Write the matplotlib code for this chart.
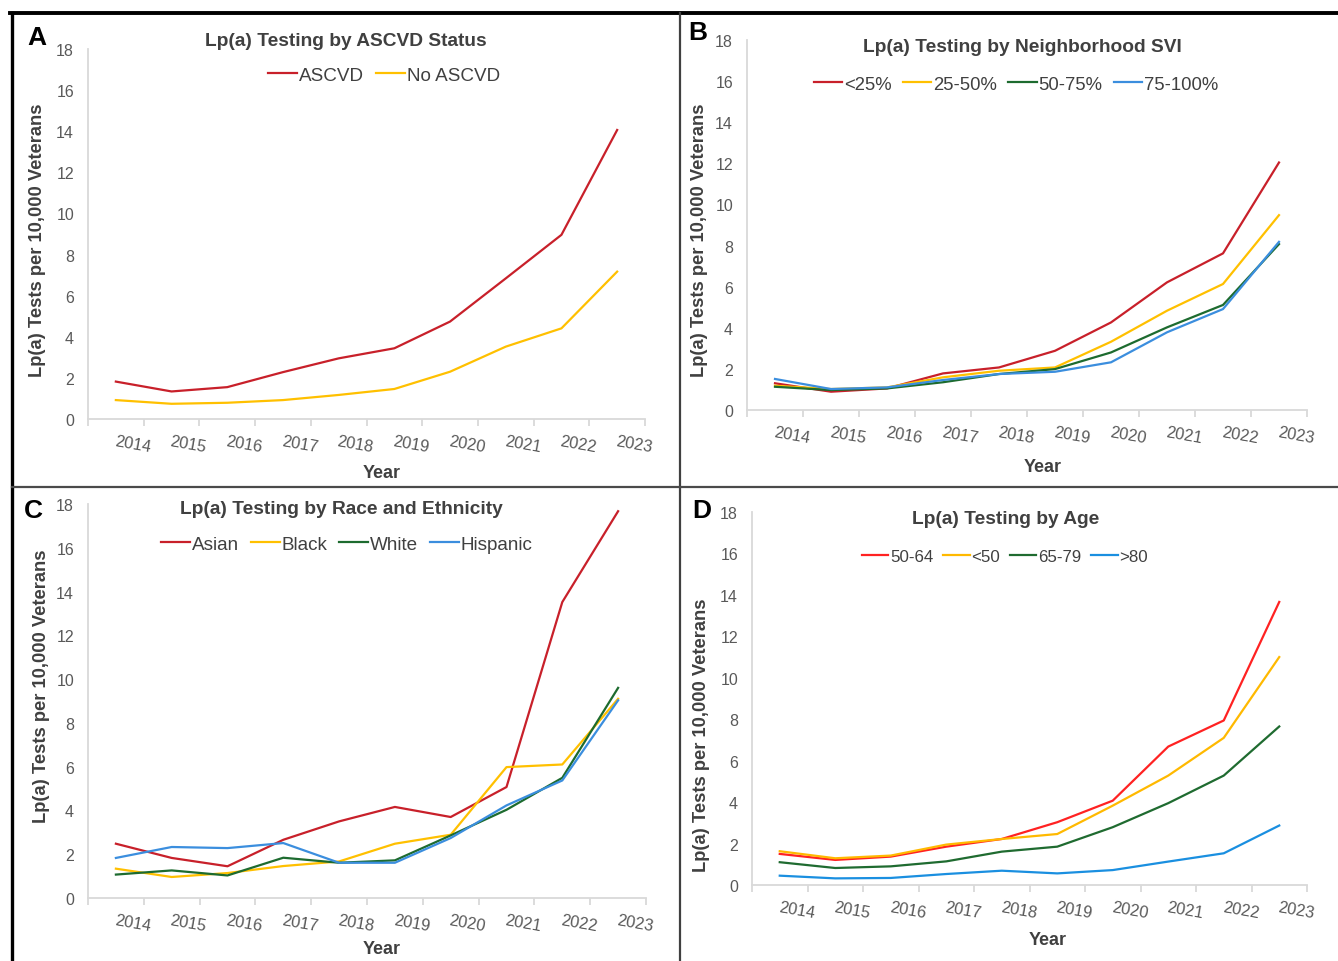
#!/usr/bin/env python3
"""Lp(a) testing rates 2014-2023, four panels (ASCVD, SVI, race, age)."""

import matplotlib
matplotlib.use("Agg")
import matplotlib.pyplot as plt
from matplotlib.lines import Line2D
import numpy as np

plt.rcParams["font.family"] = ["Liberation Sans", "DejaVu Sans"]

W, H = 1338, 962
YEARS = ["2014", "2015", "2016", "2017", "2018", "2019", "2020", "2021", "2022", "2023"]

# Panel A - ASCVD status
A_LABELS = ["ASCVD", "No ASCVD"]
A_ASCVD = [1.82, 1.34, 1.55, 2.28, 2.95, 3.44, 4.74, 6.84, 8.96, 14.06]
A_NO_ASCVD = [0.92, 0.74, 0.79, 0.92, 1.17, 1.46, 2.30, 3.52, 4.41, 7.17]

# Panel B - neighborhood SVI
B_LABELS = ["<25%", "25-50%", "50-75%", "75-100%"]
B_LT25 = [1.30, 0.89, 1.05, 1.78, 2.07, 2.88, 4.26, 6.21, 7.62, 12.04]
B_25_50 = [1.18, 1.02, 1.10, 1.59, 1.91, 2.07, 3.32, 4.83, 6.13, 9.48]
B_50_75 = [1.13, 0.97, 1.05, 1.35, 1.75, 1.99, 2.80, 4.02, 5.11, 8.07]
B_75_100 = [1.51, 1.02, 1.10, 1.46, 1.75, 1.86, 2.32, 3.78, 4.91, 8.18]

# Panel C - race and ethnicity
C_LABELS = ["Asian", "Black", "White", "Hispanic"]
C_ASIAN = [2.48, 1.83, 1.45, 2.66, 3.50, 4.16, 3.70, 5.07, 13.52, 17.67]
C_BLACK = [1.34, 0.96, 1.14, 1.46, 1.67, 2.48, 2.89, 5.98, 6.10, 9.10]
C_WHITE = [1.07, 1.26, 1.03, 1.84, 1.61, 1.72, 2.86, 4.03, 5.49, 9.60]
C_HISPANIC = [1.83, 2.33, 2.28, 2.51, 1.61, 1.61, 2.74, 4.23, 5.37, 9.03]

# Panel D - age
D_LABELS = ["50-64", "<50", "65-79", ">80"]
D_50_64 = [1.50, 1.21, 1.37, 1.85, 2.22, 3.03, 4.07, 6.68, 7.94, 13.66]
D_LT50 = [1.63, 1.29, 1.42, 1.95, 2.22, 2.46, 3.83, 5.28, 7.10, 11.00]
D_65_79 = [1.10, 0.82, 0.90, 1.14, 1.61, 1.85, 2.79, 3.95, 5.28, 7.65]
D_GT80 = [0.45, 0.32, 0.34, 0.53, 0.69, 0.56, 0.72, 1.13, 1.53, 2.87]

RED, YEL, GRN, BLU = "#C8202A", "#FFC000", "#1D6B2F", "#3B8EDE"
D_COLORS = ["#FF2222", "#FFB900", "#1F6B30", "#1A8FE0"]

TXT = "#404040"
TICK = "#595959"
AXC = "#D9D9D9"


def fx(x):
    return x / W


def fy(y):
    return 1 - y / H


def panel(fig, box, series, labels, colors, title, title_xy, leg_xy, leg_fs,
          letter, letter_xy, ylab_xy, xlab_xy):
    left, right, y0, y18 = box
    ax = fig.add_axes([fx(left), fy(y0), (right - left) / W, (y0 - y18) / H])
    x = np.arange(len(YEARS))
    for vals, lab, col in zip(series, labels, colors):
        ax.plot(x, vals, color=col, lw=1.6, label=lab)
    ax.set_xlim(-0.5, len(YEARS) - 0.5)
    ax.set_ylim(0, 18)
    ax.set_yticks(range(0, 19, 2))
    ax.set_xticks(x)
    ax.set_xticklabels(YEARS, rotation=-10, ha="left", va="top",
                       rotation_mode="anchor", fontsize=11.8, color=TICK)
    ax.set_xticks(np.arange(-0.5, len(YEARS)), minor=True)
    ax.tick_params(axis="x", which="major", length=0, pad=10)
    ax.tick_params(axis="x", which="minor", length=5, width=1.3, color=AXC)
    ax.tick_params(axis="y", length=0, pad=10, labelsize=11.5, labelcolor=TICK)
    for s in ["top", "right"]:
        ax.spines[s].set_visible(False)
    for s in ["left", "bottom"]:
        ax.spines[s].set_color(AXC)
        ax.spines[s].set_linewidth(1.3)
    fig.text(fx(title_xy[0]), fy(title_xy[1]), title, ha="center", va="center",
             fontsize=13.8, fontweight="bold", color=TXT)
    ax.legend(loc="center", bbox_to_anchor=(fx(leg_xy[0]), fy(leg_xy[1])),
              bbox_transform=fig.transFigure, ncol=len(labels), frameon=False,
              fontsize=leg_fs, handlelength=1.55, handletextpad=0.1,
              columnspacing=0.6, labelcolor=TXT, borderpad=0)
    fig.text(fx(letter_xy[0]), fy(letter_xy[1]), letter, ha="center",
             va="center", fontsize=19, fontweight="bold", color="black")
    fig.text(fx(ylab_xy[0]), fy(ylab_xy[1]), "Lp(a) Tests per 10,000 Veterans",
             rotation=90, ha="center", va="center", fontsize=13.2,
             fontweight="bold", color=TXT)
    fig.text(fx(xlab_xy[0]), fy(xlab_xy[1]), "Year", ha="center",
             va="center", fontsize=13, fontweight="bold", color=TXT)
    return ax


fig = plt.figure(figsize=(W / 100, H / 100), dpi=100)

panel(fig, (88, 645, 420, 50), [A_ASCVD, A_NO_ASCVD], A_LABELS, [RED, YEL],
      "Lp(a) Testing by ASCVD Status", (346, 42), (384, 76), 13.6,
      "A", (37, 38), (38, 240), (382, 474))
panel(fig, (747, 1307, 411, 41), [B_LT25, B_25_50, B_50_75, B_75_100],
      B_LABELS, [RED, YEL, GRN, BLU],
      "Lp(a) Testing by Neighborhood SVI", (1022, 47), (1016, 85), 13.3,
      "B", (698, 33), (700, 240), (1043, 468))
panel(fig, (88, 646, 899, 505), [C_ASIAN, C_BLACK, C_WHITE, C_HISPANIC],
      C_LABELS, [RED, YEL, GRN, BLU],
      "Lp(a) Testing by Race and Ethnicity", (341, 509), (347, 545), 13.6,
      "C", (33, 511), (42, 686), (382, 950))
panel(fig, (752, 1307, 886, 513), [D_50_64, D_LT50, D_65_79, D_GT80],
      D_LABELS, D_COLORS,
      "Lp(a) Testing by Age", (1006, 520), (1005, 557), 12.2,
      "D", (702, 511), (702, 735), (1048, 941))

# panel frame lines
fig.add_artist(Line2D([fx(10), fx(W)], [fy(14), fy(14)], color="black", lw=2.8))
fig.add_artist(Line2D([fx(12), fx(12)], [fy(14), fy(H)], color="black", lw=2.4))
fig.add_artist(Line2D([fx(680), fx(680)], [fy(14), fy(H)], color="#404040", lw=1.6))
fig.add_artist(Line2D([fx(12), fx(W)], [fy(488), fy(488)], color="#4a4a4a", lw=1.6))

fig.savefig("out.png", dpi=100)
